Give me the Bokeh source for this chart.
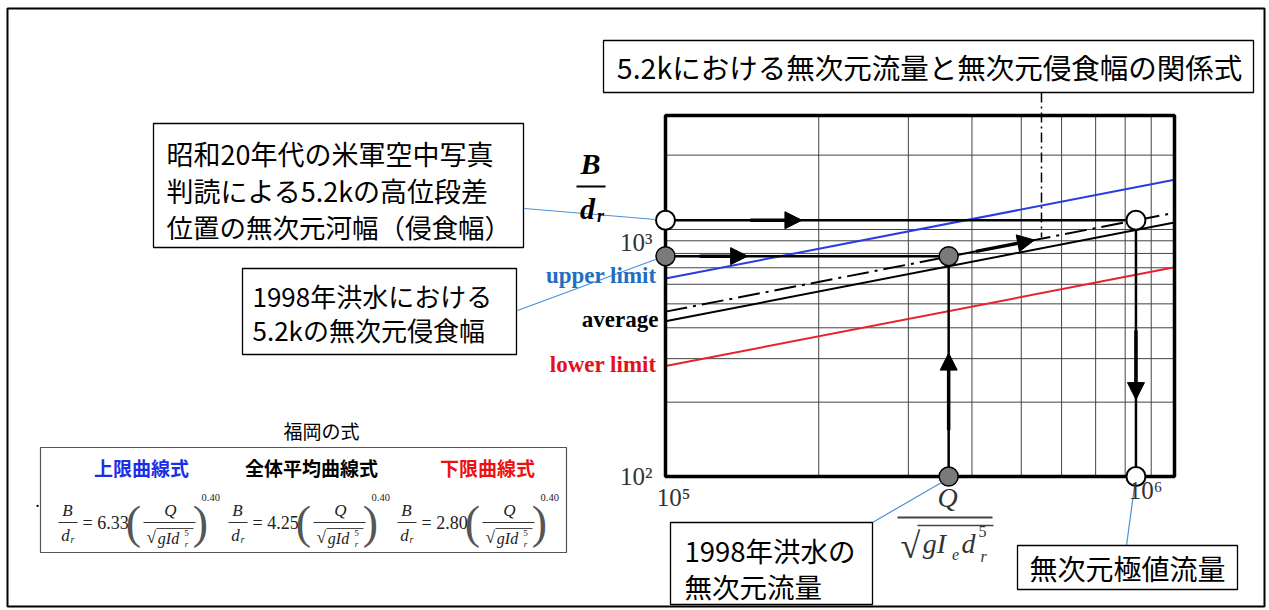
import math
from bokeh.plotting import figure
from bokeh.models import Range1d, LogScale, Label, Arrow, NormalHead
from bokeh.embed import file_html
from bokeh.resources import INLINE

# ---------------- data ----------------
q_ends = [1e5, 1e6]                 # x extent of the curves
upper_b = [633, 1590]               # 上限曲線  B/dr = 6.33 (..)^0.40
average_b = [425, 1068]             # 全体平均曲線 B/dr = 4.25 (..)^0.40
lower_b = [280, 703]                # 下限曲線  B/dr = 2.80 (..)^0.40
relation_b = [465, 1168]            # 5.2k relation (dash-dot)
q_flood = 3.6e5                     # 1998 flood dimensionless discharge
b_flood = 780                       # 1998 flood dimensionless erosion width
q_extreme = 8.4e5                   # dimensionless extreme discharge
b_terrace = 1090                    # terrace width (US army photos)
y_min, y_max = 100, 2894
x_ticks = [1e5, 1e6]
x_tick_labels = ["10⁵", "10⁶"]
y_ticks = [100, 1000]
y_tick_labels = ["10²", "10³"]
x_grid = [2e5, 3e5, 4e5, 5e5, 6e5, 7e5, 8e5, 9e5]
y_grid = [200, 300, 400, 500, 600, 700, 800, 900, 1000, 2000]
coefficients = ["6.33", "4.25", "2.80"]
exponent = "0.40"
headers = ["上限曲線式", "全体平均曲線式", "下限曲線式"]

# ---------------- layout (page pixels) ----------------
W, H = 1269, 610
FL, FT, FR, FB = 665, 115, 1174, 476          # chart frame on the page
DX = FR - FL                                   # px per decade (x)
DY = (FB - FT) / math.log10(y_max / y_min)     # px per decade (y)
JP = "Noto Sans CJK JP"
SERIF = "Liberation Serif"

p = figure(width=W, height=H, x_range=Range1d(0, W), y_range=Range1d(H, 0),
           x_axis_location=None, y_axis_location=None,
           output_backend="svg", toolbar_location=None, min_border=0)
p.grid.visible = False
p.outline_line_color = None
p.background_fill_color = "white"
p.border_fill_color = "white"

p.extra_x_ranges = {"q": Range1d(10 ** (5 - FL / DX), 10 ** (6 + (W - FR) / DX))}
p.extra_y_ranges = {"b": Range1d(10 ** (2 - (H - FB) / DY), 10 ** (2 + FB / DY))}
p.extra_x_scales = {"q": LogScale()}
p.extra_y_scales = {"b": LogScale()}
C = dict(x_range_name="q", y_range_name="b")

# ---------------- chart ----------------
p.segment(x0=x_grid, y0=[y_min] * len(x_grid), x1=x_grid, y1=[y_max] * len(x_grid),
          line_color="#444444", line_width=1, **C)
p.segment(x0=[q_ends[0]] * len(y_grid), y0=y_grid, x1=[q_ends[1]] * len(y_grid), y1=y_grid,
          line_color="#444444", line_width=1, **C)

p.line(q_ends, upper_b, line_color="#2b3be0", line_width=2, **C)
p.line(q_ends, lower_b, line_color="#e8222c", line_width=2, **C)
p.line(q_ends, average_b, line_color="black", line_width=2, **C)
p.line(q_ends, relation_b, line_color="black", line_width=2, line_dash="22 6 3 6", **C)

p.segment(x0=[q_ends[0], q_ends[0], q_flood, q_extreme],
          y0=[b_terrace, b_flood, b_flood, b_terrace],
          x1=[q_extreme, q_flood, q_flood, q_extreme],
          y1=[b_terrace, b_flood, y_min, y_min],
          line_color="black", line_width=2.5, **C)

# chart frame
p.quad(left=[q_ends[0]], right=[q_ends[1]], bottom=[y_min], top=[y_max],
       fill_color=None, line_color="black", line_width=3.5, **C)

p.scatter([q_ends[0], q_flood, q_flood], [b_flood, b_flood, y_min], size=19,
          fill_color="#7a7a7a", line_color="black", line_width=1.5, **C)
p.scatter([q_ends[0], q_extreme, q_extreme], [b_terrace, b_terrace, y_min], size=19,
          fill_color="white", line_color="black", line_width=2, **C)


def lerp_log(a, b, t):
    return 10 ** (math.log10(a) + t * (math.log10(b) - math.log10(a)))


def data_arrow(x0, y0, x1, y1):
    p.add_layout(Arrow(x_start=x0, y_start=y0, x_end=x1, y_end=y1,
                       line_color="black", line_width=3.5,
                       end=NormalHead(size=17, fill_color="black", line_color="black"), **C))


data_arrow(lerp_log(q_ends[0], q_extreme, 0.18), b_terrace, lerp_log(q_ends[0], q_extreme, 0.29), b_terrace)
data_arrow(lerp_log(q_ends[0], q_flood, 0.12), b_flood, lerp_log(q_ends[0], q_flood, 0.29), b_flood)
data_arrow(q_flood, lerp_log(y_min, b_flood, 0.21), q_flood, lerp_log(y_min, b_flood, 0.56))
data_arrow(q_extreme, lerp_log(b_terrace, y_min, 0.43), q_extreme, lerp_log(b_terrace, y_min, 0.70))
data_arrow(lerp_log(q_ends[0], q_ends[1], 0.61), lerp_log(relation_b[0], relation_b[1], 0.61),
           lerp_log(q_ends[0], q_ends[1], 0.725), lerp_log(relation_b[0], relation_b[1], 0.725))

# tick labels (placed through the log scales)
for t, s, dx, dy in zip(x_ticks, x_tick_labels, [8, -29], [-21, -14]):
    p.add_layout(Label(x=t, y=y_min, text=s, x_offset=dx, y_offset=dy, text_align="center",
                       text_baseline="middle", text_font=SERIF, text_font_size="25px",
                       text_color="#333333", **C))
for t, s, dy in zip(y_ticks, y_tick_labels, [0, -13]):
    p.add_layout(Label(x=q_ends[0], y=t, text=s, x_offset=-13, y_offset=dy, text_align="right",
                       text_baseline="middle", text_font=SERIF, text_font_size="25px",
                       text_color="#333333", **C))


# ---------------- page decorations (page pixel coordinates) ----------------
def seg(x0, y0, x1, y1, color="#4f8fd6", width=1.2, dash="solid"):
    p.segment(x0=[x0], y0=[y0], x1=[x1], y1=[y1], line_color=color, line_width=width, line_dash=dash)


def box(l, t, r, b, color="black", width=1.3):
    p.quad(left=[l], right=[r], top=[t], bottom=[b], fill_color="white",
           line_color=color, line_width=width)


def lab(x, y, text, size, color="black", font=JP, style="normal", align="center", baseline="middle"):
    p.add_layout(Label(x=x, y=y, text=text, text_font=font, text_font_size=f"{size}px",
                       text_font_style=style, text_color=color, text_align=align,
                       text_baseline=baseline))


# outer frame
p.quad(left=[7], right=[1264], top=[8], bottom=[606], fill_color=None, line_color="black", line_width=2)

# leader lines
seg(524, 208, 655, 219)
seg(517, 310, 655, 259)
seg(872, 522, 941, 482)
seg(1126, 545, 1134, 486)
seg(1041, 92, 1041, 237, "black", 1.5, "10 4 2 4")

# text boxes
box(603, 40, 1253, 92)
lab(929, 66, "5.2kにおける無次元流量と無次元侵食幅の関係式", 28.5)

box(153, 123, 523, 247)
lab(166, 153, "昭和20年代の米軍空中写真", 27, align="left")
lab(166, 190, "判読による5.2kの高位段差", 27, align="left")
lab(166, 226, "位置の無次元河幅（侵食幅）", 26.5, align="left")

box(242, 268, 516, 354)
lab(252, 295, "1998年洪水における", 26, align="left")
lab(252, 329, "5.2kの無次元侵食幅", 26, align="left")

box(670, 522, 872, 604)
lab(684, 549, "1998年洪水の", 27.5, align="left")
lab(684, 585, "無次元流量", 27.5, align="left")

box(1017, 545, 1237, 589)
lab(1127, 567, "無次元極値流量", 28)

# curve labels
lab(656, 275, "upper limit", 23, "#1f6fc0", SERIF, "bold", "right")
lab(658, 319, "average", 23, "black", SERIF, "bold", "right")
lab(656, 364, "lower limit", 23, "#e3101e", SERIF, "bold", "right")

# axis titles
lab(590, 163, "B", 30, "black", SERIF, "bold italic")
seg(576, 186, 605, 186, "black", 2.2)
lab(587, 208, "d", 30, "black", SERIF, "bold italic")
lab(600, 215, "r", 18, "black", SERIF, "bold italic")

lab(947, 497, "Q", 28, "#333333", SERIF, "italic")
seg(897, 517, 992, 517, "#444444", 1.8)
lab(910, 545, "√", 36, "#333333", SERIF)
seg(917, 525, 993, 525, "#444444", 1.4)
lab(934, 543, "gI", 28, "#333333", SERIF, "italic")
lab(955, 554, "e", 16, "#333333", SERIF, "italic")
lab(968, 543, "d", 28, "#333333", SERIF, "italic")
lab(982, 531, "5", 16, "#333333", SERIF)
lab(983, 556, "r", 16, "#333333", SERIF, "italic")

# formula box
lab(321, 430, "福岡の式", 19)
box(40, 447, 566, 552, "#555555", 1.2)
lab(37, 505, "·", 18, "black", SERIF)
header_x = [141, 311, 487]
header_colors = ["#1a2ee8", "black", "#ee1111"]
for hx, ht, hc in zip(header_x, headers, header_colors):
    lab(hx, 467, ht, 19, hc, JP, "bold")

formula_x = [67, 237, 406]
for bx, coef in zip(formula_x, coefficients):
    lab(bx, 510, "B", 17, "#222222", SERIF, "italic")
    seg(bx - 9, 522, bx + 10, 522, "#333333", 1)
    lab(bx - 2, 535, "d", 17, "#222222", SERIF, "italic")
    lab(bx + 5, 539, "r", 10, "#222222", SERIF, "italic")
    lab(bx + 15, 522, "= " + coef, 18, "#222222", SERIF, align="left")
    lab(bx + 66, 522, "(", 46, "#555555", SERIF)
    lab(bx + 103, 510, "Q", 17, "#222222", SERIF, "italic")
    seg(bx + 76, 522, bx + 128, 522, "#333333", 1)
    lab(bx + 84, 537, "√", 17, "#222222", SERIF)
    seg(bx + 89, 528, bx + 126, 528, "#333333", 0.9)
    lab(bx + 101, 538, "gId", 16, "#222222", SERIF, "italic")
    lab(bx + 119, 532, "5", 9, "#222222", SERIF)
    lab(bx + 119, 543, "r", 9, "#222222", SERIF, "italic")
    lab(bx + 133, 522, ")", 46, "#555555", SERIF)
    lab(bx + 134, 497, exponent, 10.5, "#222222", SERIF, align="left")

open("out.html", "w").write(file_html(p, INLINE))
